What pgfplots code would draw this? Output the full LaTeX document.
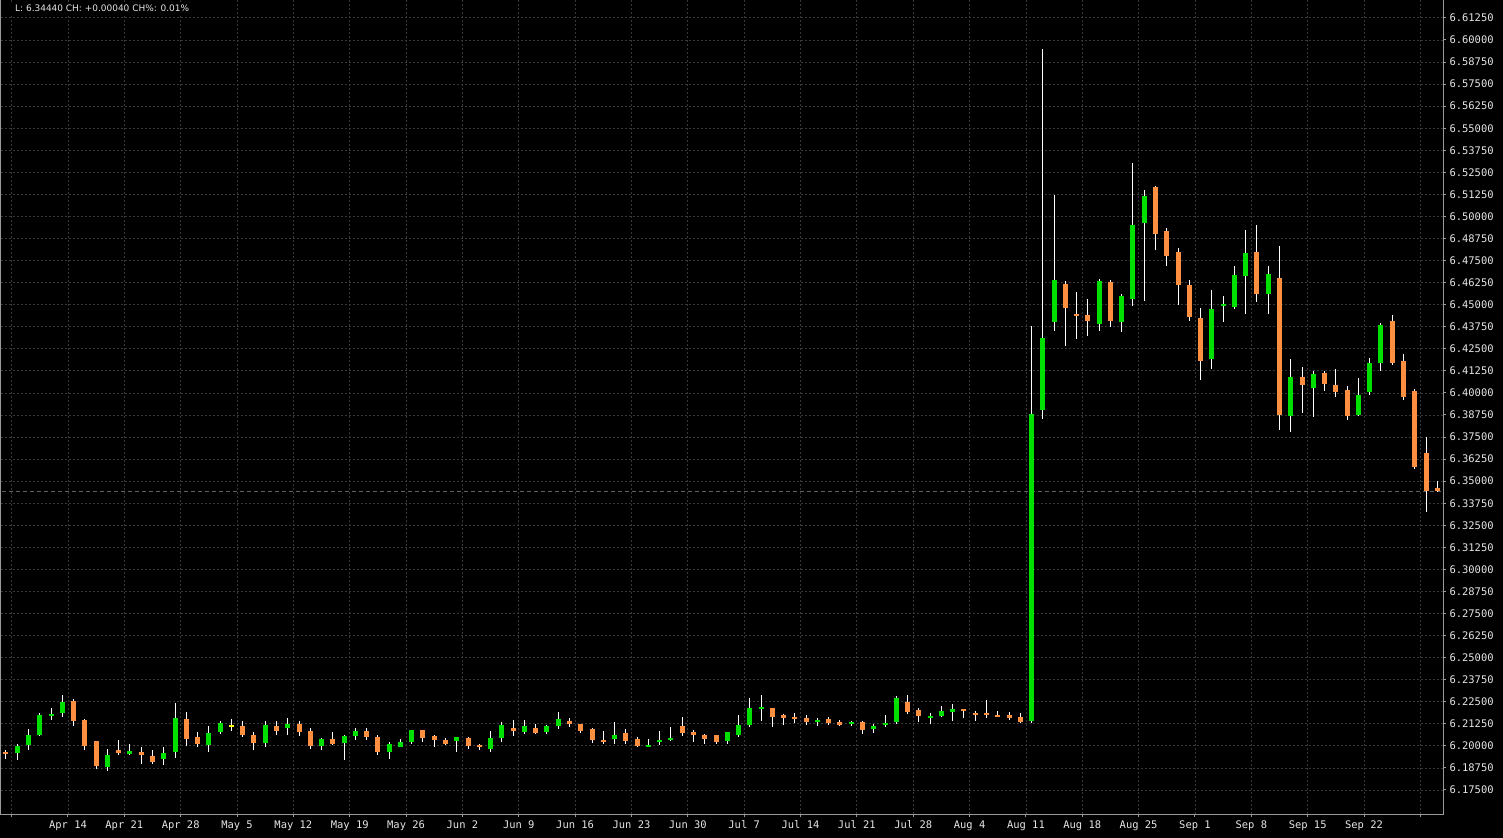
\documentclass[border=0pt]{standalone}
\usepackage{fontspec}
\usepackage{pgfplots}
\usepackage{pgfplotstable}
\pgfplotsset{compat=1.18}
\newfontfamily\monofont{DejaVu Sans Mono}
\newfontfamily\hdrfont{DejaVu Sans}

\definecolor{upcol}{HTML}{00E000}
\definecolor{downcol}{HTML}{FF8F40}
\definecolor{dojicol}{HTML}{FFFF00}
\definecolor{gridcol}{HTML}{383838}
\definecolor{axiscol}{HTML}{9A9A9A}
\definecolor{lastcol}{HTML}{606060}
\definecolor{labelcol}{HTML}{E6E6E6}

% daily candles, i = trading day (0 = Fri Apr 4)
\pgfplotstableread{
i O H L C
0 6.1964 6.1979 6.1925 6.1955
1 6.1959 6.2013 6.1918 6.2002
2 6.2007 6.2097 6.1974 6.2064
3 6.2064 6.2187 6.2058 6.2176
4 6.2167 6.2216 6.2148 6.2178
5 6.2187 6.2289 6.2165 6.2249
6 6.2255 6.2266 6.2114 6.2142
7 6.2148 6.2154 6.1979 6.2002
8 6.2030 6.2030 6.1867 6.1884
9 6.1878 6.1985 6.1856 6.1946
10 6.1974 6.2036 6.1946 6.1957
11 6.1957 6.2013 6.1951 6.1968
12 6.1968 6.1991 6.1895 6.1946
13 6.1940 6.1979 6.1895 6.1906
14 6.1923 6.1991 6.1889 6.1957
15 6.1963 6.2244 6.1929 6.2159
16 6.2154 6.2193 6.2002 6.2041
17 6.2052 6.2081 6.1991 6.2013
18 6.2007 6.2114 6.1968 6.2075
19 6.2081 6.2142 6.2069 6.2131
20 6.2111 6.2154 6.2086 6.2111
21 6.2114 6.2142 6.2052 6.2064
22 6.2064 6.2081 6.1974 6.2019
23 6.2019 6.2142 6.1996 6.2120
24 6.2114 6.2142 6.2064 6.2086
25 6.2103 6.2159 6.2064 6.2126
26 6.2126 6.2142 6.2058 6.2081
27 6.2086 6.2103 6.1985 6.2002
28 6.2002 6.2047 6.1979 6.2041
29 6.2041 6.2081 6.2007 6.2013
30 6.2019 6.2064 6.1918 6.2058
31 6.2058 6.2103 6.2036 6.2086
32 6.2086 6.2103 6.2036 6.2052
33 6.2052 6.2064 6.1951 6.1968
34 6.1963 6.2024 6.1923 6.2013
35 6.1996 6.2041 6.1991 6.2024
36 6.2024 6.2092 6.2013 6.2092
37 6.2092 6.2092 6.2024 6.2047
38 6.2058 6.2064 6.1996 6.2036
39 6.2036 6.2047 6.2007 6.2013
40 6.2030 6.2052 6.1968 6.2052
41 6.2047 6.2052 6.1985 6.2002
42 6.2002 6.2013 6.1974 6.1991
43 6.1985 6.2086 6.1968 6.2047
44 6.2047 6.2137 6.2024 6.2120
45 6.2103 6.2148 6.2058 6.2086
46 6.2081 6.2148 6.2069 6.2114
47 6.2103 6.2126 6.2069 6.2075
48 6.2081 6.2120 6.2069 6.2114
49 6.2114 6.2193 6.2097 6.2154
50 6.2142 6.2159 6.2109 6.2126
51 6.2126 6.2126 6.2075 6.2086
52 6.2097 6.2103 6.2019 6.2036
53 6.2036 6.2086 6.2013 6.2024
54 6.2041 6.2137 6.2013 6.2064
55 6.2075 6.2097 6.2013 6.2030
56 6.2041 6.2052 6.1991 6.2002
57 6.1996 6.2041 6.1991 6.2007
58 6.2024 6.2086 6.2007 6.2036
59 6.2036 6.2109 6.2030 6.2047
60 6.2114 6.2165 6.2058 6.2075
61 6.2081 6.2092 6.2024 6.2064
62 6.2064 6.2069 6.2013 6.2041
63 6.2064 6.2064 6.2013 6.2024
64 6.2030 6.2081 6.2013 6.2081
65 6.2064 6.2176 6.2052 6.2120
66 6.2120 6.2272 6.2109 6.2216
67 6.2210 6.2289 6.2142 6.2221
68 6.2216 6.2216 6.2109 6.2165
69 6.2176 6.2182 6.2120 6.2159
70 6.2165 6.2187 6.2131 6.2154
71 6.2159 6.2176 6.2120 6.2137
72 6.2137 6.2159 6.2114 6.2148
73 6.2154 6.2165 6.2120 6.2131
74 6.2137 6.2148 6.2114 6.2120
75 6.2126 6.2142 6.2114 6.2137
76 6.2137 6.2142 6.2069 6.2092
77 6.2097 6.2126 6.2075 6.2114
78 6.2120 6.2176 6.2109 6.2131
79 6.2137 6.2283 6.2126 6.2272
80 6.2249 6.2289 6.2182 6.2193
81 6.2204 6.2216 6.2137 6.2171
82 6.2159 6.2187 6.2126 6.2171
83 6.2171 6.2227 6.2165 6.2199
84 6.2193 6.2238 6.2142 6.2210
85 6.2210 6.2210 6.2159 6.2199
86 6.2187 6.2199 6.2142 6.2176
87 6.2187 6.2260 6.2159 6.2176
88 6.2176 6.2199 6.2165 6.2165
89 6.2176 6.2193 6.2148 6.2159
90 6.2165 6.2187 6.2131 6.2137
91 6.2142 6.4377 6.2127 6.3881
92 6.3904 6.5951 6.3853 6.4312
93 6.4403 6.5123 6.4352 6.4641
94 6.4619 6.4636 6.4267 6.4482
95 6.4448 6.4573 6.4307 6.4437
96 6.4443 6.4534 6.4324 6.4409
97 6.4392 6.4647 6.4352 6.4636
98 6.4630 6.4641 6.4375 6.4409
99 6.4403 6.4562 6.4346 6.4551
100 6.4534 6.5305 6.4494 6.4953
101 6.4965 6.5152 6.4523 6.5118
102 6.5164 6.5175 6.4812 6.4903
103 6.4920 6.4937 6.4721 6.4778
104 6.4801 6.4823 6.4500 6.4614
105 6.4614 6.4642 6.4409 6.4432
106 6.4426 6.4483 6.4075 6.4183
107 6.4194 6.4585 6.4137 6.4477
108 6.4494 6.4551 6.4404 6.4506
109 6.4489 6.4721 6.4478 6.4670
110 6.4665 6.4925 6.4449 6.4795
111 6.4801 6.4954 6.4517 6.4563
112 6.4563 6.4721 6.4449 6.4676
113 6.4653 6.4835 6.3791 6.3876
114 6.3870 6.4194 6.3780 6.4092
115 6.4092 6.4148 6.3889 6.4046
116 6.4029 6.4126 6.3861 6.4109
117 6.4114 6.4126 6.4012 6.4052
118 6.4046 6.4137 6.3978 6.4006
119 6.4018 6.4040 6.3848 6.3870
120 6.3876 6.4086 6.3870 6.3989
121 6.4006 6.4199 6.3989 6.4171
122 6.4171 6.4398 6.4126 6.4386
123 6.4409 6.4443 6.4160 6.4171
124 6.4182 6.4222 6.3961 6.3978
125 6.4012 6.4023 6.3570 6.3581
126 6.3661 6.3751 6.3326 6.3445
127 6.3462 6.3502 6.3440 6.3444
}\candles

\begin{document}
\begin{tikzpicture}
\path[use as bounding box, fill=black] (0,-24bp) rectangle (1503bp,814bp);
\begin{axis}[
    at={(0.5bp,0bp)}, anchor=south west,
    scale only axis, width=1442.5bp, height=816bp,
    xmin=-0.488, xmax=127.51,
    ymin=6.1614, ymax=6.62378,
    axis background/.style={fill=black},
    axis line style={color=axiscol, line width=1bp},
    xtick pos=bottom, ytick pos=right, yticklabel pos=right,
    tick align=outside, major tick length=3bp,
    tick style={color=axiscol, line width=1bp},
    xtick={0.5,5.5,...,125.5},
    xticklabels={{},Apr 14,Apr 21,Apr 28,May 5,May 12,May 19,May 26,Jun 2,Jun 9,Jun 16,Jun 23,Jun 30,Jul 7,Jul 14,Jul 21,Jul 28,Aug 4,Aug 11,Aug 18,Aug 25,Sep 1,Sep 8,Sep 15,Sep 22,{}},
    ytick={6.175,6.1875,6.2,6.2125,6.225,6.2375,6.25,6.2625,6.275,6.2875,6.3,6.3125,6.325,6.3375,6.35,6.3625,6.375,6.3875,6.4,6.4125,6.425,6.4375,6.45,6.4625,6.475,6.4875,6.5,6.5125,6.525,6.5375,6.55,6.5625,6.575,6.5875,6.6,6.6125},
    scaled y ticks=false,
    yticklabel style={/pgf/number format/.cd, fixed, fixed zerofill, precision=5, 1000 sep={}, assume math mode=true},
    ticklabel style={font=\monofont\fontsize{10.5}{12}\selectfont, text=labelcol},
    grid=major,
    major grid style={color=gridcol, line width=0.8bp, dash pattern=on 2bp off 2bp},
    candle/.style 2 args={draw=none, mark=none, forget plot,
        error bars/.cd, y dir=both, y explicit, error mark=none,
        error bar style={draw=#1, solid, line width=#2}},
]
% last price line
\addplot[color=lastcol, line width=0.8bp, dash pattern=on 4bp off 3bp] coordinates {(-1,6.3444) (129,6.3444)};
% wicks
\addplot[candle={white}{1bp}]
  table[x=i, y expr={0.5*(\thisrow{H}+\thisrow{L})}, y error expr={0.5*(\thisrow{H}-\thisrow{L})}] {\candles};
% up bodies
\addplot[candle={upcol}{5bp}]
  table[x=i, y expr={\thisrow{C}>\thisrow{O} ? 0.5*(\thisrow{O}+\thisrow{C}) : nan},
        y error expr={max(0.5*abs(\thisrow{C}-\thisrow{O}),0.00057)}] {\candles};
% down bodies
\addplot[candle={downcol}{5bp}]
  table[x=i, y expr={\thisrow{C}<\thisrow{O} ? 0.5*(\thisrow{O}+\thisrow{C}) : nan},
        y error expr={max(0.5*abs(\thisrow{C}-\thisrow{O}),0.00057)}] {\candles};
% doji bodies
\addplot[candle={dojicol}{5bp}]
  table[x=i, y expr={\thisrow{C}==\thisrow{O} ? \thisrow{C} : nan},
        y error expr={0.00057}] {\candles};
\end{axis}
\node[anchor=west, fill=black, inner xsep=4bp, inner ysep=3bp, text=labelcol,
      font=\hdrfont\fontsize{9}{10}\selectfont] at (11bp,806bp) {L: 6.34440 CH: +0.00040 CH\%: 0.01\%};
\end{tikzpicture}
\end{document}
